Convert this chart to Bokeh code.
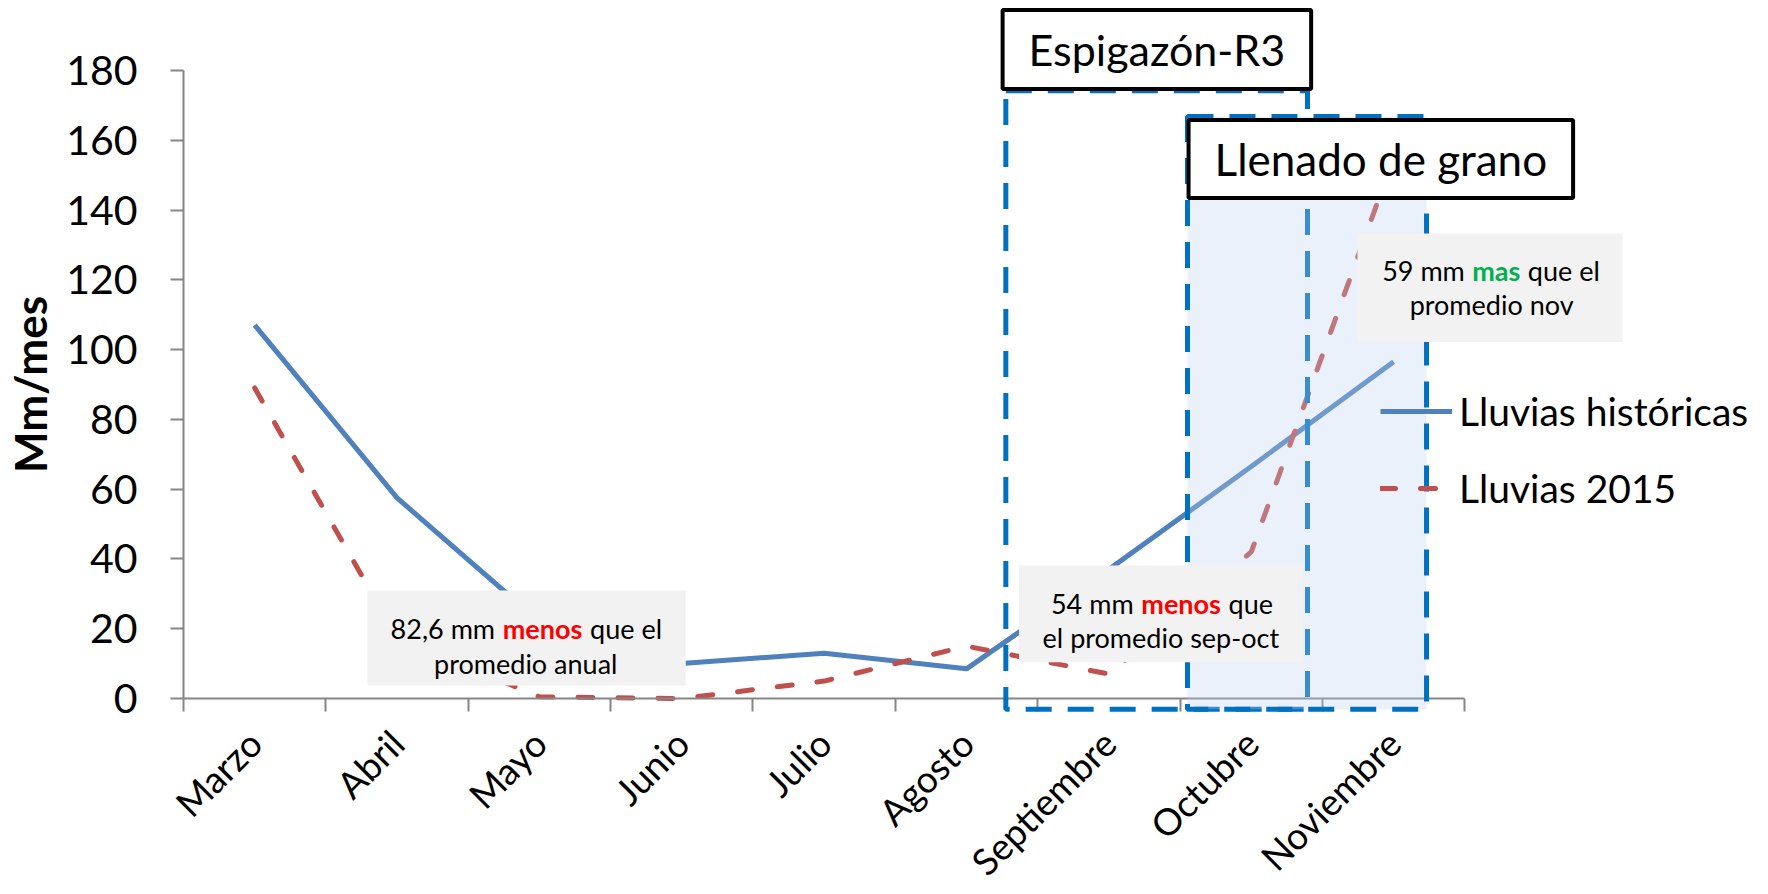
import math
from bokeh.plotting import figure
from bokeh.models import Range1d, FixedTicker, Legend, LegendItem, Label, BoxAnnotation
from bokeh.embed import file_html
from bokeh.resources import INLINE

# ---------------- data ----------------
months = ["Marzo", "Abril", "Mayo", "Junio", "Julio", "Agosto",
          "Septiembre", "Octubre", "Noviembre"]
historicas = [107, 57.5, 22, 10, 13, 8.5, 37, 66.5, 96.5]
lluvias_2015 = [89, 17.5, 0.5, 0, 5, 15, 7, 42, 155]
y_ticks = [0, 20, 40, 60, 80, 100, 120, 140, 160, 180]
series_names = ["Lluvias históricas", "Lluvias 2015"]
y_title = "Mm/mes"

FONT = "Lato"
AXIS_GRAY = "#868686"
BLUE = "#4F81BD"
RED = "#C0504D"
DASH_BLUE = "#0070C0"

W, H = 1768, 894
AXIS_X = 183          # pixel column of x = 0
AXIS_Y = 698          # pixel row of y = 0
PX_X = 142.37         # px per month
PX_Y = 3.4889         # px per mm

x_pos = [i + 0.5 for i in range(len(months))]
bounds = list(range(len(months) + 1))

x_start = -AXIS_X / PX_X
x_end = (W - AXIS_X) / PX_X
y_end = AXIS_Y / PX_Y
y_start = -(H - AXIS_Y) / PX_Y

p = figure(width=W, height=H,
           x_range=Range1d(x_start, x_end), y_range=Range1d(y_start, y_end),
           output_backend="svg", toolbar_location=None,
           min_border_left=0, min_border_right=0,
           min_border_top=0, min_border_bottom=0,
           background_fill_color="white", border_fill_color="white",
           outline_line_color=None)
p.xgrid.visible = False
p.ygrid.visible = False

# x axis: drawn at y = 0, ticks between months, labels at centres
xa = p.xaxis[0]
xa.fixed_location = 0
xa.bounds = (0, len(months))
xa.ticker = FixedTicker(ticks=x_pos, minor_ticks=bounds)
xa.major_label_overrides = {x: m for x, m in zip(x_pos, months)}
xa.major_tick_in = 0
xa.major_tick_out = 0
xa.minor_tick_in = 0
xa.minor_tick_out = 13
xa.minor_tick_line_color = AXIS_GRAY
xa.minor_tick_line_width = 2
xa.axis_line_color = AXIS_GRAY
xa.axis_line_width = 2
xa.major_label_orientation = math.pi / 4
xa.major_label_text_font = FONT
xa.major_label_text_font_size = "37px"
xa.major_label_text_color = "black"
xa.major_label_standoff = 25

# y axis: drawn at x = 0
ya = p.yaxis[0]
ya.fixed_location = 0
ya.bounds = (0, 180)
ya.ticker = FixedTicker(ticks=y_ticks)
ya.major_tick_in = 0
ya.major_tick_out = 13
ya.major_tick_line_color = AXIS_GRAY
ya.major_tick_line_width = 2
ya.minor_tick_line_color = None
ya.axis_line_color = AXIS_GRAY
ya.axis_line_width = 2
ya.major_label_text_font = FONT
ya.major_label_text_font_size = "41px"
ya.major_label_text_color = "black"
ya.major_label_standoff = 33

p.add_layout(Label(x=-1.0796, y=90, text=y_title, angle=math.pi / 2,
                   text_align="center", text_baseline="middle", text_font=FONT,
                   text_font_style="bold", text_font_size="44px", text_color="black"))

# ---------------- lines ----------------
r_hist = p.line(x_pos, historicas, line_color=BLUE, line_width=5, line_join="round")
r_2015 = p.line(x_pos, lluvias_2015, line_color=RED, line_width=5,
                line_dash="15 25", line_cap="round", line_join="round")

legend = Legend(items=[LegendItem(label=series_names[0], renderers=[r_hist]),
                       LegendItem(label=series_names[1], renderers=[r_2015])],
                location=(1380, 383), orientation="vertical",
                border_line_color=None, background_fill_alpha=0,
                padding=0, margin=0, glyph_width=72, glyph_height=20,
                label_standoff=7, label_height=44, spacing=31,
                label_text_font=FONT, label_text_font_size="39px",
                label_text_color="black")
p.add_layout(legend)

# ---------------- phase boxes ----------------
esp_box = BoxAnnotation(left=5.776, right=7.895, bottom=-3.07, top=174.2,
                        fill_alpha=0, line_color=DASH_BLUE, line_alpha=1,
                        line_width=5, line_dash="26 16")
p.add_layout(esp_box)
llen_fill = BoxAnnotation(left=7.052, right=8.731, bottom=-3.07, top=166.8,
                          fill_color="#BCD0EE", fill_alpha=0.3, line_color=None)
p.add_layout(llen_fill)
llen_box = BoxAnnotation(left=7.052, right=8.731, bottom=-3.07, top=166.8,
                         fill_alpha=0, line_color=DASH_BLUE, line_alpha=1,
                         line_width=5, line_dash="26 16")
p.add_layout(llen_box)

# ---------------- grey notes ----------------
for (l, r, b, t) in [(1.292, 3.528, 3.73, 30.95),
                     (5.869, 7.860, 10.4, 38.1),
                     (8.246, 10.107, 102.2, 133.3)]:
    p.add_layout(BoxAnnotation(left=l, right=r, bottom=b, top=t,
                               fill_color="#F2F2F2", fill_alpha=1,
                               line_color=None))

NOTE_SIZE = "27px"


def plain(x, y, text, align="center", xoff=0):
    p.add_layout(Label(x=x, y=y, text=text, x_offset=xoff, text_align=align,
                       text_baseline="alphabetic", text_font=FONT,
                       text_font_size=NOTE_SIZE, text_color="black"))


def mixed(x, y, left, mid, right, color, mid_w):
    p.add_layout(Label(x=x, y=y, text=mid, text_align="center",
                       text_baseline="alphabetic", text_font=FONT,
                       text_font_style="bold", text_font_size=NOTE_SIZE,
                       text_color=color))
    plain(x, y, left, "right", -(mid_w / 2 + 7))
    plain(x, y, right, "left", (mid_w / 2 + 7))


mixed(2.522, 19.98, "82,6 mm", "menos", "que el", "#FF0000", 81)
plain(2.404, 9.95, "promedio anual")
mixed(7.007, 27.14, "54 mm", "menos", "que", "#FF0000", 81)
plain(6.865, 17.57, "el promedio sep-oct")
mixed(9.221, 122.76, "59 mm", "mas", "que el", "#00B050", 49)
plain(9.188, 112.93, "promedio nov")

# ---------------- phase titles ----------------
for (x, y, txt, fs, pad, vpad) in [(6.837, 186.0, "Espigazón-R3", "43px", 26, 14),
                                   (8.41, 154.6, "Llenado de grano", "44px", 26, 13)]:
    p.add_layout(Label(x=x, y=y, text=txt, text_align="center", text_baseline="middle",
                       text_font=FONT, text_font_size=fs, text_color="black",
                       background_fill_color="white", background_fill_alpha=1,
                       border_line_color="black", border_line_width=4,
                       padding=dict(left=pad, right=pad, top=vpad, bottom=vpad)))

open("out.html", "w").write(file_html(p, INLINE))
